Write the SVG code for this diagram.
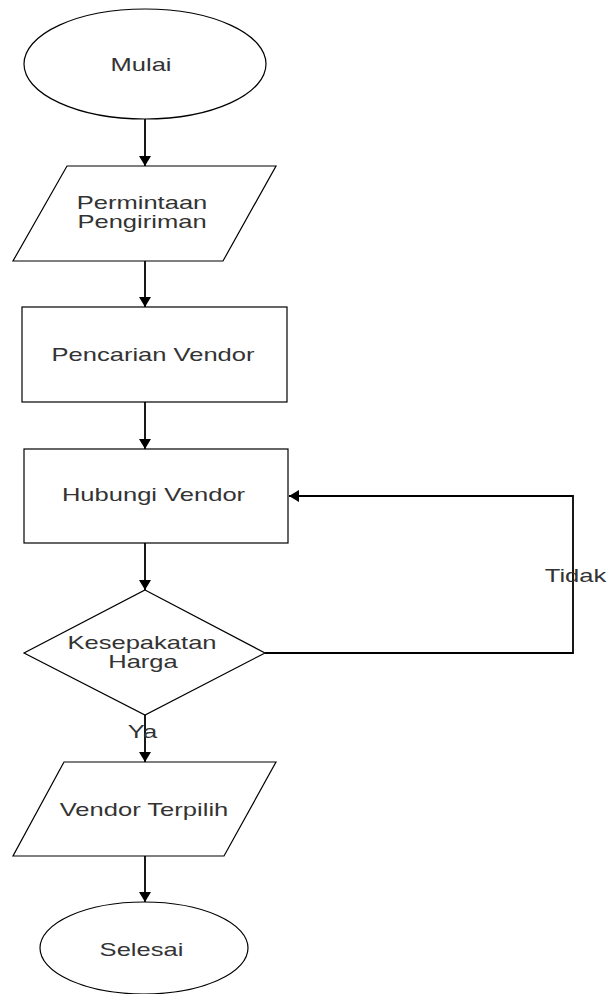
<svg xmlns="http://www.w3.org/2000/svg" width="608" height="994" viewBox="0 0 608 994">
<style>
.shape{fill:#fff;stroke:#000;stroke-width:1.2}
.conn{fill:none;stroke:#000;stroke-width:1.8}
text{font-family:"Liberation Sans",Arial,sans-serif;font-size:18px;fill:#333;text-anchor:middle}
</style>
<defs>
<marker id="arr" markerUnits="userSpaceOnUse" markerWidth="11" markerHeight="12" refX="10" refY="6" orient="auto">
<path d="M0,0 L10,6 L0,12 z" fill="#000"/>
</marker>
</defs>
<rect width="608" height="994" fill="#fff"/>
<g id="connectors">
<line class="conn" x1="145" y1="119" x2="145" y2="166" marker-end="url(#arr)"/>
<line class="conn" x1="145" y1="261" x2="145" y2="307" marker-end="url(#arr)"/>
<line class="conn" x1="145" y1="402" x2="145" y2="449" marker-end="url(#arr)"/>
<line class="conn" x1="145" y1="543" x2="145" y2="590" marker-end="url(#arr)"/>
<line class="conn" x1="145" y1="715" x2="145" y2="762" marker-end="url(#arr)"/>
<line class="conn" x1="145" y1="856" x2="145" y2="902" marker-end="url(#arr)"/>
<polyline class="conn" points="265,653 573,653 573,496 289,496" marker-end="url(#arr)"/>
<text transform="translate(142.5,738) scale(1.42,1)">Ya</text>
<text transform="translate(575.5,582) scale(1.42,1)">Tidak</text>
</g>
<g id="mulai">
<ellipse class="shape" cx="145" cy="64" rx="121" ry="55"/>
<text transform="translate(141,71) scale(1.42,1)">Mulai</text>
</g>
<g id="permintaan">
<polygon class="shape" points="67,166 276,166 223,261 13,261"/>
<text transform="translate(142,209) scale(1.42,1)">Permintaan</text>
<text transform="translate(142,228) scale(1.42,1)">Pengiriman</text>
</g>
<g id="pencarian">
<rect class="shape" x="22" y="307" width="265" height="95"/>
<text transform="translate(153,361) scale(1.42,1)">Pencarian Vendor</text>
</g>
<g id="hubungi">
<rect class="shape" x="24" y="449" width="264" height="94"/>
<text transform="translate(153.5,501) scale(1.42,1)">Hubungi Vendor</text>
</g>
<g id="kesepakatan">
<polygon class="shape" points="145,590 265,653 145,715 24,653"/>
<text transform="translate(142,649) scale(1.42,1)">Kesepakatan</text>
<text transform="translate(143,668) scale(1.42,1)">Harga</text>
</g>
<g id="vendor-terpilih">
<polygon class="shape" points="64,762 276,762 224,856 13,856"/>
<text transform="translate(144,816) scale(1.42,1)">Vendor Terpilih</text>
</g>
<g id="selesai">
<ellipse class="shape" cx="144" cy="948" rx="104" ry="46"/>
<text transform="translate(141.5,956) scale(1.42,1)">Selesai</text>
</g>
</svg>
